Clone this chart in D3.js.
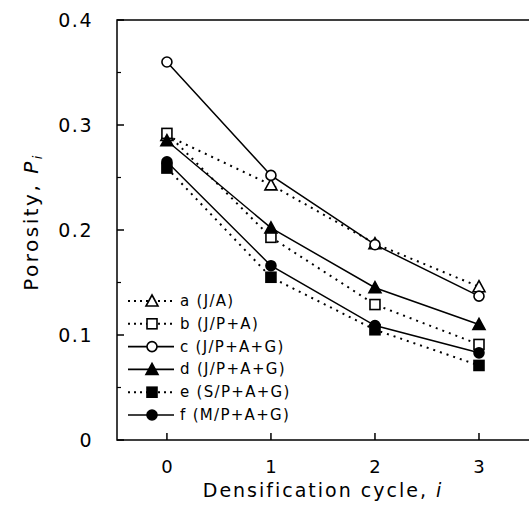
<!DOCTYPE html>
<html>
<head>
<meta charset="utf-8">
<script src="https://cdn.jsdelivr.net/npm/d3@7"></script>
<style>
  body { margin: 0; background: #fff; }
  svg { display: block; font-family: "DejaVu Sans", sans-serif; }
</style>
</head>
<body>
<div id="chart"></div>
<script>
const cycles = [0, 1, 2, 3];
const seriesNames = ["a (J/A)", "b (J/P+A)", "c (J/P+A+G)", "d (J/P+A+G)", "e (S/P+A+G)", "f (M/P+A+G)"];
const seriesA = [0.290, 0.243, 0.187, 0.146];
const seriesB = [0.292, 0.193, 0.129, 0.091];
const seriesC = [0.360, 0.252, 0.186, 0.137];
const seriesD = [0.285, 0.202, 0.145, 0.110];
const seriesE = [0.259, 0.155, 0.105, 0.071];
const seriesF = [0.265, 0.166, 0.109, 0.083];
const yTicks = [0, 0.1, 0.2, 0.3, 0.4];
const yTickLabels = ["0", "0.1", "0.2", "0.3", "0.4"];

const series = [
  { name: seriesNames[0], values: seriesA, shape: "triangle", filled: false, dotted: true },
  { name: seriesNames[1], values: seriesB, shape: "square", filled: false, dotted: true },
  { name: seriesNames[2], values: seriesC, shape: "circle", filled: false, dotted: false },
  { name: seriesNames[3], values: seriesD, shape: "triangle", filled: true, dotted: false },
  { name: seriesNames[4], values: seriesE, shape: "square", filled: true, dotted: true },
  { name: seriesNames[5], values: seriesF, shape: "circle", filled: true, dotted: false }
];

const width = 529, height = 508;
const plotLeft = 117, plotRight = 531, plotTop = 20, plotBottom = 440;

const svg = d3.select("#chart").append("svg")
  .attr("width", width)
  .attr("height", height);

const x = d3.scaleLinear().domain([-0.48, 3.5]).range([plotLeft, plotRight]);
const y = d3.scaleLinear().domain([0, 0.4]).range([plotBottom, plotTop]);

// frame
svg.append("rect")
  .attr("x", plotLeft).attr("y", plotTop)
  .attr("width", plotRight - plotLeft).attr("height", plotBottom - plotTop)
  .attr("fill", "none").attr("stroke", "#000").attr("stroke-width", 1.5);

// y ticks (inward) major + minor
const yMinor = [0.05, 0.15, 0.25, 0.35];
svg.append("g").selectAll("line").data(yTicks).enter().append("line")
  .attr("x1", plotLeft).attr("x2", plotLeft + 7)
  .attr("y1", d => y(d)).attr("y2", d => y(d))
  .attr("stroke", "#000").attr("stroke-width", 1.5);
svg.append("g").selectAll("line").data(yMinor).enter().append("line")
  .attr("x1", plotLeft).attr("x2", plotLeft + 4)
  .attr("y1", d => y(d)).attr("y2", d => y(d))
  .attr("stroke", "#000").attr("stroke-width", 1.2);
svg.append("g").selectAll("text").data(yTicks).enter().append("text")
  .attr("x", 93).attr("y", d => y(d) + 7)
  .attr("text-anchor", "end")
  .attr("font-size", 19)
  .attr("letter-spacing", 1.5)
  .text((d, i) => yTickLabels[i]);

// x ticks (inward)
svg.append("g").selectAll("line").data(cycles).enter().append("line")
  .attr("x1", d => x(d)).attr("x2", d => x(d))
  .attr("y1", plotBottom).attr("y2", plotBottom - 7)
  .attr("stroke", "#000").attr("stroke-width", 1.5);
svg.append("g").selectAll("text").data(cycles).enter().append("text")
  .attr("x", d => x(d)).attr("y", 473)
  .attr("text-anchor", "middle")
  .attr("font-size", 18)
  .text(d => d);

// axis titles
const xt = svg.append("text")
  .attr("x", 323).attr("y", 497)
  .attr("text-anchor", "middle")
  .attr("font-size", 19)
  .attr("letter-spacing", 2);
xt.append("tspan").text("Densification cycle, ");
xt.append("tspan").attr("font-style", "italic").text("i");

const yt = svg.append("text")
  .attr("transform", "translate(38,222) rotate(-90)")
  .attr("text-anchor", "middle")
  .attr("font-size", 20)
  .attr("letter-spacing", 2.5);
yt.append("tspan").text("Porosity, ");
yt.append("tspan").attr("font-style", "italic").text("P");
yt.append("tspan").attr("font-style", "italic").attr("font-size", 13).attr("dy", 4).text("i");

// lines
const line = d3.line().x((d, i) => x(cycles[i])).y(d => y(d));

svg.append("g").selectAll("path").data(series).enter().append("path")
  .attr("d", d => line(d.values))
  .attr("fill", "none")
  .attr("stroke", "#000")
  .attr("stroke-width", d => d.dotted ? 2 : 1.5)
  .attr("stroke-dasharray", d => d.dotted ? "2,5" : null);

function drawMarker(g, shape, filled, cx, cy) {
  const fill = filled ? "#000" : "#fff";
  if (shape === "circle") {
    g.append("circle").attr("cx", cx).attr("cy", cy).attr("r", 5)
      .attr("fill", fill).attr("stroke", "#000").attr("stroke-width", 1.6);
  } else if (shape === "square") {
    g.append("rect").attr("x", cx - 5).attr("y", cy - 5).attr("width", 10).attr("height", 10)
      .attr("fill", fill).attr("stroke", "#000").attr("stroke-width", 1.6);
  } else {
    g.append("path").attr("d", `M${cx},${cy - 6}L${cx + 6},${cy + 5}L${cx - 6},${cy + 5}Z`)
      .attr("fill", fill).attr("stroke", "#000").attr("stroke-width", 1.6);
  }
}

const marks = svg.append("g");
series.forEach(s => {
  s.values.forEach((v, i) => drawMarker(marks, s.shape, s.filled, x(cycles[i]), y(v)));
});

// legend
const legend = svg.append("g");
series.forEach((s, i) => {
  const ly = 301 + i * 22.8;
  legend.append("line")
    .attr("x1", 128).attr("x2", 174).attr("y1", ly).attr("y2", ly)
    .attr("stroke", "#000")
    .attr("stroke-width", s.dotted ? 2 : 1.6)
    .attr("stroke-dasharray", s.dotted ? "2,4" : null);
  drawMarker(legend, s.shape, s.filled, 152, ly);
  legend.append("text")
    .attr("x", 180).attr("y", ly + 5)
    .attr("font-size", 15)
    .attr("letter-spacing", 1.3)
    .text(s.name);
});
</script>
</body>
</html>
